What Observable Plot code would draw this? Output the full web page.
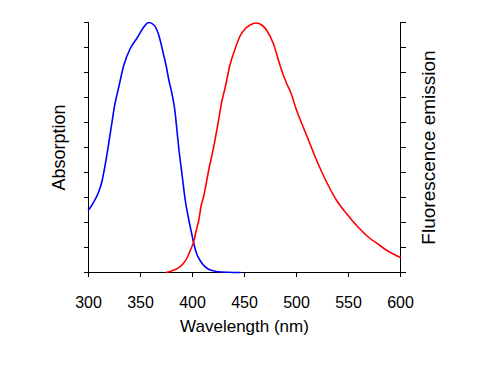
<!DOCTYPE html>
<html><head><meta charset="utf-8">
<script src="https://cdn.jsdelivr.net/npm/d3@7"></script>
<script src="https://cdn.jsdelivr.net/npm/@observablehq/plot@0.6"></script>
<style>body{margin:0;background:#fff}</style>
</head><body><div id="chart"></div>
<script>
const absWavelength = [300, 303, 307, 310, 313, 316, 319, 322, 325, 329, 334, 340, 347, 352, 358, 363, 367.5, 372, 375, 377, 380, 383, 385, 387, 390, 393, 396, 399, 401, 404, 407, 410, 415, 420, 425, 435, 446];
const absValue = [0.25, 0.268, 0.297, 0.325, 0.365, 0.43, 0.505, 0.585, 0.665, 0.74, 0.83, 0.895, 0.94, 0.975, 1.0, 0.99, 0.95, 0.875, 0.82, 0.775, 0.72, 0.65, 0.57, 0.49, 0.39, 0.29, 0.22, 0.16, 0.12, 0.075, 0.05, 0.032, 0.014, 0.007, 0.003, 0.001, 0];
const emWavelength = [375, 379, 385, 391, 395, 398, 401, 404, 406, 408, 411, 415.5, 420.3, 425, 428, 431.5, 436, 441, 446, 450.6, 455.4, 461, 466.6, 471.4, 477.8, 482.6, 484.2, 490.6, 494, 500, 509.8, 519.4, 529, 538.6, 548.2, 557.8, 567.4, 580.2, 589.8, 600];
const emValue = [0, 0.005, 0.015, 0.035, 0.06, 0.09, 0.121, 0.175, 0.208, 0.26, 0.31, 0.408, 0.501, 0.608, 0.68, 0.741, 0.83, 0.895, 0.948, 0.975, 0.99, 0.998, 0.99, 0.968, 0.915, 0.85, 0.828, 0.755, 0.725, 0.65, 0.548, 0.448, 0.361, 0.288, 0.235, 0.188, 0.148, 0.108, 0.081, 0.06];
const xTicks = [300, 350, 400, 450, 500, 550, 600];
const yTicks = [0, 0.1, 0.2, 0.3, 0.4, 0.5, 0.6, 0.7, 0.8, 0.9, 1.0];
const xLabel = "Wavelength (nm)";
const leftLabel = "Absorption";
const rightLabel = "Fluorescence emission";

const absData = absWavelength.map((x, i) => ({x, y: absValue[i]}));
const emData = emWavelength.map((x, i) => ({x, y: emValue[i]}));

const chart = Plot.plot({
  width: 500, height: 368,
  marginLeft: 88, marginRight: 100, marginTop: 22, marginBottom: 96,
  style: {fontFamily: "'Liberation Sans', Arial, sans-serif", background: "white", color: "black"},
  x: {domain: [300, 600]},
  y: {domain: [0, 1]},
  marks: [
    Plot.axisX({ticks: xTicks, tickSize: 5, tickPadding: 19, fontSize: 16, label: null}),
    Plot.axisY({ticks: yTicks, tickSize: 4, tickFormat: () => "", label: null, anchor: "left"}),
    Plot.axisY({ticks: yTicks, tickSize: 5, tickFormat: () => "", label: null, anchor: "right"}),
    Plot.ruleX([300, 600], {stroke: "black"}),
    Plot.ruleY([0], {stroke: "black"}),
    Plot.line(absData, {x: "x", y: "y", stroke: "#0000ff", strokeWidth: 1.6, curve: "monotone-x"}),
    Plot.line(emData, {x: "x", y: "y", stroke: "#ff0000", strokeWidth: 1.6, curve: "monotone-x"}),
    Plot.text([xLabel], {text: d => d, frameAnchor: "bottom", dy: 59, fontSize: 17, fill: "black"}),
    Plot.text([leftLabel], {text: d => d, frameAnchor: "left", textAnchor: "middle", lineAnchor: "middle", rotate: -90, dx: -29, fontSize: 18, fill: "black"}),
    Plot.text([rightLabel], {text: d => d, frameAnchor: "right", textAnchor: "middle", lineAnchor: "middle", rotate: -90, dx: 28, fontSize: 19, fill: "black"})
  ]
});
document.getElementById("chart").appendChild(chart);
</script>
</body></html>
